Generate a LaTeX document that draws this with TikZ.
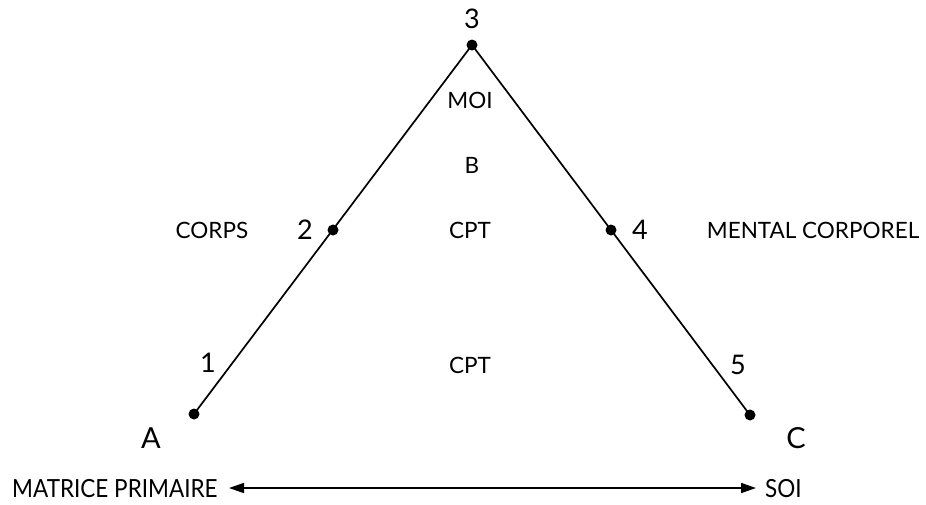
\documentclass[tikz,border=0pt]{standalone}
\usepackage{fontspec}
\setmainfont{Lato}
\newfontfamily\condfont[FakeStretch=0.9]{Lato}
\usetikzlibrary{arrows.meta}
\begin{document}
\begin{tikzpicture}[x=1pt,y=-1pt,
  dot/.style={circle,fill=black,inner sep=0pt,minimum size=11pt},
  num/.style={font=\fontsize{27}{29}\selectfont,inner sep=0pt},
  lbl/.style={font=\fontsize{22.5}{24}\selectfont,inner sep=0pt},
  corner/.style={font=\fontsize{29}{31}\selectfont,inner sep=0pt},
  bottom/.style={font=\condfont\fontsize{25}{27}\selectfont,inner sep=0pt},
  edge/.style={line width=1.7pt},
  dblarrow/.style={line width=1.7pt,{Triangle[length=15pt,width=10pt]}-{Triangle[length=15pt,width=10pt]}}]
\useasboundingbox (0,0) rectangle (926,504);
\node[dot] (p3) at (472,45) {};
\node[dot] (pA) at (194,414) {};
\node[dot] (pC) at (750,415) {};
\node[dot] (p2) at (333,230) {};
\node[dot] (p4) at (611,230) {};
\draw[edge] (pA.center) -- (p3.center) -- (pC.center);
\node[num] (n3) at (472,19) {3};
\node[num] (n2) at (305,230) {2};
\node[num] (n4) at (640,230) {4};
\node[num] (n1) at (208,363) {1};
\node[num] (n5) at (738,365) {5};
\node[corner] (nA) at (151,438) {A};
\node[corner] (nC) at (796,438) {C};
\node[lbl] (corps) at (212,230) {CORPS};
\node[lbl] (mental) at (813,230) {MENTAL CORPOREL};
\node[lbl] (moi) at (470,100) {MOI};
\node[lbl] (b) at (472,165) {B};
\node[lbl] (cpt1) at (470,230) {CPT};
\node[lbl] (cpt2) at (470,365) {CPT};
\node[bottom,anchor=base west] (mat) at (12,497) {MATRICE PRIMAIRE};
\node[bottom,anchor=base west] (soi) at (765,497) {SOI};
\coordinate (aL) at (229,488);
\coordinate (aR) at (756,488);
\draw[dblarrow] (aL) -- (aR);
\end{tikzpicture}
\end{document}
